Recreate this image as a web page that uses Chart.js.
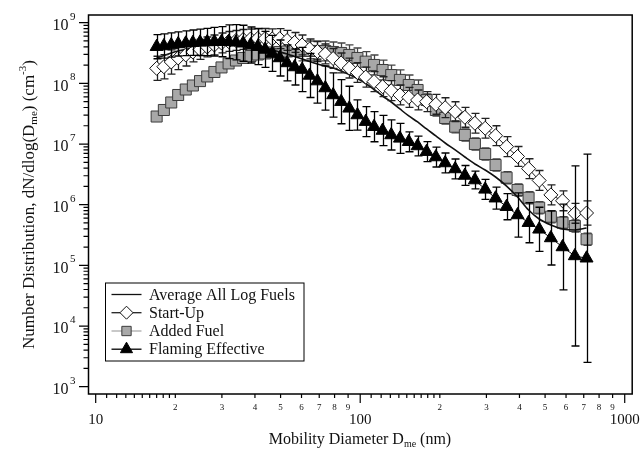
<!DOCTYPE html>
<html><head><meta charset="utf-8">
<script src="https://cdn.jsdelivr.net/npm/chart.js@4.4.1/dist/chart.umd.min.js"></script>
<style>html,body{margin:0;padding:0;background:#fff;}canvas{display:block;}</style>
</head><body>
<canvas id="c" width="641" height="450" style="width:641px;height:450px"></canvas>
<script>
// ---- data ----
const diameters = [17.0, 18.1, 19.3, 20.5, 21.9, 23.3, 24.8, 26.4, 28.1, 29.9, 31.8, 33.9, 36.1, 38.5, 41.0, 43.7, 46.5, 49.6, 52.9, 56.5, 60.3, 64.4, 68.9, 73.8, 79.0, 84.7, 90.9, 97.6, 104.9, 112.8, 121.5, 131.0, 141.3, 152.6, 164.8, 178.2, 193.2, 209.5, 228.6, 248.7, 271.4, 296.8, 324.9, 357.6, 393.4, 433.1, 474.9, 525.8, 582.1, 647.8, 717.3];
const averageAll = [2.62e8, 2.88e8, 3.17e8, 3.42e8, 3.62e8, 3.78e8, 3.93e8, 4.05e8, 4.16e8, 4.24e8, 4.29e8, 4.29e8, 4.26e8, 4.13e8, 3.98e8, 3.75e8, 3.55e8, 3.29e8, 3.05e8, 2.77e8, 2.52e8, 2.29e8, 2.09e8, 1.93e8, 1.79e8, 1.60e8, 1.40e8, 1.20e8, 9.95e7, 7.92e7, 6.19e7, 4.93e7, 3.78e7, 2.90e7, 2.31e7, 1.77e7, 1.36e7, 1.04e7, 7.98e6, 6.11e6, 4.69e6, 3.73e6, 2.86e6, 2.03e6, 1.34e6, 8.18e5, 5.81e5, 4.63e5, 3.98e5, 3.83e5, 4.13e5];
const startUp = [1.77e8, 1.88e8, 2.25e8, 2.62e8, 2.94e8, 3.29e8, 3.62e8, 3.98e8, 4.29e8, 4.63e8, 4.90e8, 5.09e8, 5.29e8, 5.39e8, 5.49e8, 5.49e8, 5.40e8, 5.45e8, 5.10e8, 4.72e8, 4.29e8, 3.69e8, 3.35e8, 3.05e8, 2.57e8, 2.17e8, 1.79e8, 1.51e8, 1.27e8, 1.07e8, 8.81e7, 7.57e7, 6.43e7, 5.89e7, 5.32e7, 4.99e7, 4.52e7, 3.97e7, 3.41e7, 2.76e7, 2.20e7, 1.82e7, 1.37e7, 9.04e6, 6.23e6, 3.92e6, 2.51e6, 1.45e6, 1.16e6, 7.22e5, 7.30e5];
const startUpErr = [1.58, 1.58, 1.58, 1.55, 1.52, 1.46, 1.46, 1.46, 1.46, 1.46, 1.46, 1.46, 1.46, 1.46, 1.46, 1.46, 1.46, 1.46, 1.46, 1.46, 1.46, 1.46, 1.46, 1.46, 1.46, 1.46, 1.46, 1.46, 1.46, 1.46, 1.46, 1.46, 1.46, 1.46, 1.46, 1.46, 1.46, 1.46, 1.46, 1.46, 1.46, 1.46, 1.46, 1.46, 1.46, 1.46, 1.46, 1.46, 1.46, 1.46, 1.58];
const addedFuel = [2.84e7, 3.64e7, 4.84e7, 6.43e7, 7.92e7, 9.22e7, 1.09e8, 1.30e8, 1.54e8, 1.83e8, 2.13e8, 2.38e8, 2.62e8, 2.83e8, 2.99e8, 3.11e8, 3.23e8, 3.29e8, 3.35e8, 3.42e8, 3.42e8, 3.42e8, 3.42e8, 3.42e8, 3.29e8, 3.17e8, 2.94e8, 2.62e8, 2.28e8, 2.01e8, 1.66e8, 1.37e8, 1.14e8, 9.40e7, 7.78e7, 5.32e7, 3.64e7, 2.69e7, 1.93e7, 1.41e7, 1.00e7, 6.85e6, 4.51e6, 2.79e6, 1.75e6, 1.30e6, 8.92e5, 6.34e5, 5.05e5, 4.46e5, 2.69e5];
const addedFuelErr = [1.16, 1.16, 1.16, 1.16, 1.16, 1.16, 1.16, 1.16, 1.16, 1.16, 1.16, 1.16, 1.16, 1.16, 1.16, 1.16, 1.16, 1.16, 1.16, 1.16, 1.46, 1.46, 1.46, 1.46, 1.46, 1.46, 1.46, 1.46, 1.46, 1.46, 1.46, 1.46, 1.46, 1.46, 1.46, 1.26, 1.26, 1.26, 1.26, 1.26, 1.26, 1.26, 1.26, 1.26, 1.26, 1.26, 1.26, 1.26, 1.26, 1.26, 1.26];
const flaming = [4.02e8, 4.13e8, 4.29e8, 4.46e8, 4.58e8, 4.68e8, 4.75e8, 4.81e8, 4.86e8, 4.86e8, 4.86e8, 4.75e8, 4.58e8, 4.29e8, 4.02e8, 3.62e8, 3.11e8, 2.62e8, 2.17e8, 1.86e8, 1.69e8, 1.35e8, 1.09e8, 8.39e7, 6.43e7, 4.99e7, 3.88e7, 3.01e7, 2.34e7, 1.93e7, 1.67e7, 1.41e7, 1.24e7, 1.09e7, 9.28e6, 7.48e6, 6.11e6, 4.87e6, 3.88e6, 3.03e6, 2.55e6, 1.79e6, 1.28e6, 9.27e5, 6.77e5, 5.05e5, 3.93e5, 2.83e5, 2.01e5, 1.43e5, 1.31e5];
const flamingErr = [1.58, 1.58, 1.58, 1.58, 1.60, 1.62, 1.65, 1.68, 1.72, 1.77, 1.90, 1.95, 1.98, 1.98, 1.98, 1.98, 1.98, 1.98, 1.98, 1.98, 2.31, 2.31, 2.31, 2.31, 2.31, 2.31, 2.31, 1.77, 1.77, 1.77, 1.77, 1.77, 1.77, 1.46, 1.46, 1.46, 1.46, 1.46, 1.46, 1.46, 1.40, 1.46, 1.52, 1.64, 2.31, 2.14, 2.31, 2.79, 5.1, 30.5, 51.9];
const seriesNames = ['Average All Log Fuels', 'Start-Up', 'Added Fuel', 'Flaming Effective'];
const xMajorTicks = [10, 100, 1000];
const xMinorTicks = [11,12,13,14,15,16,17,18,19,20,30,40,50,60,70,80,90,110,120,130,140,150,160,170,180,190,200,300,400,500,600,700,800,900];
const xMinorLabelled = {20:'2',30:'3',40:'4',50:'5',60:'6',70:'7',80:'8',90:'9',200:'2',300:'3',400:'4',500:'5',600:'6',700:'7',800:'8',900:'9'};
const yExponents = ['3','4','5','6','7','8','9'];
const yMajorTicks = [1e3, 1e4, 1e5, 1e6, 1e7, 1e8, 1e9];
const xRange = [9.393, 1067.3];
const yRange = [758, 1.339e9];

const SERIF = '"Liberation Serif", "Times New Roman", serif';
const F = s => s + 'px ' + SERIF;
const pts = arr => arr.map((v, i) => ({x: diameters[i], y: v}));

function markerPath(ctx, style, x, y, r) {
  ctx.beginPath();
  if (style === 'rect') { const s = r * Math.SQRT1_2; ctx.rect(x - s, y - s, 2 * s, 2 * s); }
  else if (style === 'rectRot') { ctx.moveTo(x, y - r); ctx.lineTo(x + r, y); ctx.lineTo(x, y + r); ctx.lineTo(x - r, y); ctx.closePath(); }
  else if (style === 'triangle') {
    let a = 0; ctx.moveTo(x + Math.sin(a) * r, y - Math.cos(a) * r);
    a += 2 * Math.PI / 3; ctx.lineTo(x + Math.sin(a) * r, y - Math.cos(a) * r);
    a += 2 * Math.PI / 3; ctx.lineTo(x + Math.sin(a) * r, y - Math.cos(a) * r);
    ctx.closePath();
  }
}

function drawRich(ctx, parts, x, y) {
  ctx.textAlign = 'left'; ctx.textBaseline = 'alphabetic';
  for (const p of parts) { ctx.font = F(p.s); ctx.fillText(p.t, x, y + (p.dy || 0)); x += ctx.measureText(p.t).width; }
}
function richWidth(ctx, parts) {
  let w = 0; for (const p of parts) { ctx.font = F(p.s); w += ctx.measureText(p.t).width; } return w;
}

const decor = {
  id: 'decor',
  beforeDatasetDraw(chart, args) {
    const ds = chart.data.datasets[args.index];
    if (!ds.errFactor) return;
    const ctx = chart.ctx, xs = chart.scales.x, ys = chart.scales.y, ca = chart.chartArea;
    ctx.save();
    ctx.beginPath(); ctx.rect(ca.left, ca.top, ca.right - ca.left, ca.bottom - ca.top); ctx.clip();
    ctx.strokeStyle = ds.errColor; ctx.lineWidth = 1.3;
    ds.data.forEach((p, i) => {
      const f = ds.errFactor[i];
      const px = Math.round(xs.getPixelForValue(p.x)) + 0.5;
      const yt = ys.getPixelForValue(p.y * f), yb = ys.getPixelForValue(p.y / f);
      ctx.beginPath();
      ctx.moveTo(px, yt); ctx.lineTo(px, yb);
      ctx.moveTo(px - 4, yt); ctx.lineTo(px + 4, yt);
      ctx.moveTo(px - 4, yb); ctx.lineTo(px + 4, yb);
      ctx.stroke();
    });
    ctx.restore();
  },
  afterDraw(chart) {
    const ctx = chart.ctx, xs = chart.scales.x, ys = chart.scales.y, ca = chart.chartArea;
    ctx.save();
    // frame
    ctx.strokeStyle = '#000'; ctx.lineWidth = 1.5;
    ctx.strokeRect(ca.left, ca.top, ca.right - ca.left, ca.bottom - ca.top);
    ctx.lineWidth = 1.2;
    // y ticks
    ctx.beginPath();
    yMajorTicks.forEach(v => { const y = ys.getPixelForValue(v); ctx.moveTo(ca.left - 9.5, y); ctx.lineTo(ca.left, y); });
    for (let e = 0; e < yMajorTicks.length - 1; e++) {
      for (let m = 2; m <= 9; m++) { const y = ys.getPixelForValue(yMajorTicks[e] * m); ctx.moveTo(ca.left - 5, y); ctx.lineTo(ca.left, y); }
    }
    // x ticks
    xMajorTicks.forEach(v => { const x = xs.getPixelForValue(v); ctx.moveTo(x, ca.bottom); ctx.lineTo(x, ca.bottom + 9); });
    xMinorTicks.forEach(v => { const x = xs.getPixelForValue(v); ctx.moveTo(x, ca.bottom); ctx.lineTo(x, ca.bottom + 4); });
    ctx.stroke();
    ctx.fillStyle = '#111';
    // y tick labels
    yMajorTicks.forEach((v, i) => {
      const y = ys.getPixelForValue(v);
      ctx.font = F(16); ctx.textAlign = 'right'; ctx.textBaseline = 'middle';
      ctx.fillText('10', 68.5, y + 3);
      ctx.font = F(11); ctx.textAlign = 'left';
      ctx.fillText(yExponents[i], 70, y - 6);
    });
    // x tick labels
    ctx.textAlign = 'center'; ctx.textBaseline = 'middle';
    xMajorTicks.forEach(v => { ctx.font = F(15); ctx.fillText(String(v), xs.getPixelForValue(v), 420); });
    Object.keys(xMinorLabelled).forEach(k => { ctx.font = F(9); ctx.fillText(xMinorLabelled[k], xs.getPixelForValue(+k), 408); });
    // axis titles
    const xt = [{t: 'Mobility Diameter D', s: 16}, {t: 'me', s: 10, dy: 3}, {t: ' (nm)', s: 16}];
    drawRich(ctx, xt, 360 - richWidth(ctx, xt) / 2, 444);
    const yt = [{t: 'Number Distribution, dN/dlog(D', s: 17}, {t: 'me', s: 11, dy: 3}, {t: ') (cm', s: 17}, {t: '-3', s: 11, dy: -8}, {t: ')', s: 17}];
    ctx.save(); ctx.translate(33.5, (ca.top + ca.bottom) / 2); ctx.rotate(-Math.PI / 2);
    drawRich(ctx, yt, -richWidth(ctx, yt) / 2, 0); ctx.restore();
    // legend
    const lx = 105, ly = 282.5, lw = 198.5, lh = 78;
    ctx.fillStyle = '#fff'; ctx.fillRect(lx, ly, lw, lh);
    ctx.strokeStyle = '#000'; ctx.lineWidth = 1; ctx.strokeRect(lx + 0.5, ly + 0.5, lw, lh);
    const rows = [294.5, 312.7, 331, 349.2];
    chart.data.datasets.forEach((ds, i) => {
      const y = rows[i];
      ctx.strokeStyle = ds.legendLine; ctx.lineWidth = 1.3;
      ctx.beginPath(); ctx.moveTo(111.5, y); ctx.lineTo(141.5, y); ctx.stroke();
      if (ds.pointStyle && ds.pointRadius > 0) {
        markerPath(ctx, ds.pointStyle, 126.5, y, ds.legendR);
        ctx.fillStyle = ds.pointBackgroundColor; ctx.fill();
        ctx.strokeStyle = ds.pointBorderColor; ctx.lineWidth = 1; ctx.stroke();
      }
      ctx.fillStyle = '#111'; ctx.font = F(16); ctx.textAlign = 'left'; ctx.textBaseline = 'middle';
      ctx.fillText(ds.label, 149, y + 1);
    });
    ctx.restore();
  }
};

new Chart(document.getElementById('c'), {
  type: 'line',
  data: {
    datasets: [
      { label: seriesNames[0], data: pts(averageAll), borderColor: '#111', borderWidth: 1.6, pointRadius: 0, tension: 0.35, cubicInterpolationMode: 'monotone', order: 2, legendLine: '#111', legendR: 0 },
      { label: seriesNames[1], data: pts(startUp), borderColor: '#222', borderWidth: 1, pointStyle: 'rectRot', pointRadius: 7, pointBackgroundColor: '#fff', pointBorderColor: '#111', pointBorderWidth: 1, order: 1, errFactor: startUpErr, errColor: '#222', legendLine: '#222', legendR: 6.5 },
      { label: seriesNames[2], data: pts(addedFuel), borderColor: '#999', borderWidth: 1, pointStyle: 'rect', pointRadius: 7.8, pointBackgroundColor: '#a8a8a8', pointBorderColor: '#3c3c3c', pointBorderWidth: 1, order: 3, errFactor: addedFuelErr, errColor: '#444', legendLine: '#aaa', legendR: 6.6 },
      { label: seriesNames[3], data: pts(flaming), borderColor: '#000', borderWidth: 1, pointStyle: 'triangle', pointRadius: 7.5, pointBackgroundColor: '#000', pointBorderColor: '#000', pointBorderWidth: 1, order: 0, errFactor: flamingErr, errColor: '#000', legendLine: '#000', legendR: 7 }
    ]
  },
  options: {
    responsive: false, animation: false, events: [],
    layout: { padding: { top: 15, right: 8.5, left: 0, bottom: 0 } },
    plugins: { legend: { display: false }, tooltip: { enabled: false } },
    scales: {
      x: { type: 'logarithmic', min: xRange[0], max: xRange[1], bounds: 'data', grid: { display: false }, border: { display: false }, ticks: { display: false },
           afterFit: s => { s.height = 56; } },
      y: { type: 'logarithmic', min: yRange[0], max: yRange[1], bounds: 'data', grid: { display: false }, border: { display: false }, ticks: { display: false },
           afterFit: s => { s.width = 88.5; } }
    }
  },
  plugins: [decor]
});
</script>
</body></html>
